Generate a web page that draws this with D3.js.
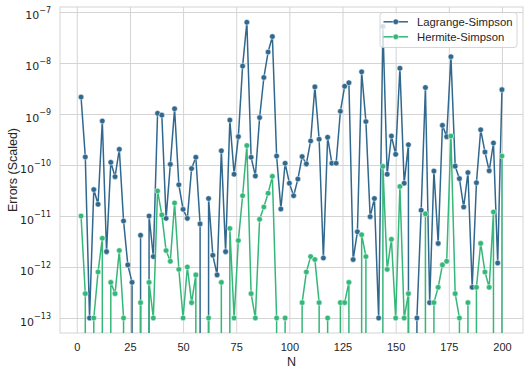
<!DOCTYPE html>
<html><head><meta charset="utf-8">
<script src="https://cdn.jsdelivr.net/npm/d3@7/dist/d3.min.js"></script>
<style>body{margin:0;background:#fff}</style>
</head><body><svg id="chart" width="530" height="374"></svg>
<script>
// ---- data ----
const N = [2,4,6,8,10,12,14,16,18,20,22,24,26,28,30,32,34,36,38,40,
  42,44,46,48,50,52,54,56,58,60,62,64,66,68,70,72,74,76,78,80,
  82,84,86,88,90,92,94,96,98,100,102,104,106,108,110,112,114,116,118,120,
  122,124,126,128,130,132,134,136,138,140,142,144,146,148,150,152,154,156,158,160,
  162,164,166,168,170,172,174,176,178,180,182,184,186,188,190,192,194,196,198,200];
const lagrange = [2.15e-9,1.44e-10,1e-13,3.3e-11,1.7e-11,7.3e-10,2e-12,1.13e-10,5.9e-11,2.03e-10,
  8e-12,1.1e-12,5e-13,0,4.2e-12,0,1e-11,1.6e-12,1.03e-9,9.5e-10,
  9e-12,1.03e-10,1.27e-9,4.1e-11,1.35e-11,9e-12,8.5e-11,1.42e-10,7e-12,0,
  2.2e-11,1.7e-12,7e-13,1.9e-10,2e-12,7.6e-10,6.6e-11,3.6e-10,8.7e-9,6.3e-8,
  1.42e-10,6.1e-11,8.5e-10,5.2e-9,1.64e-8,3.3e-8,1.5e-10,1.37e-11,1.08e-10,4.4e-11,
  2.5e-11,5.3e-11,1.46e-10,1.05e-10,2.96e-10,3.4e-9,3.2e-10,1.5e-12,3.5e-10,1.08e-10,
  1.08e-10,1.13e-9,3.5e-9,4.1e-9,1.4e-12,4.9e-12,6.7e-9,7.1e-10,9.7e-12,2.2e-11,
  1e-13,5.2e-8,6.6e-11,3.7e-10,1.62e-10,7.9e-9,4.4e-11,2.5e-10,0,1e-13,
  1.3e-11,3.3e-9,2e-13,7.6e-11,2.9e-12,6e-10,3.6e-10,1.33e-8,9.5e-11,5.4e-11,
  1.5e-11,7.1e-11,4e-13,4.5e-11,4.9e-10,1.8e-10,7.7e-11,2.7e-10,1.2e-12,3e-9];
const hermite = [1e-11,3e-13,0,1e-13,8e-13,3.66e-12,0,5e-13,3e-13,2.1e-12,
  1e-13,0,0,0,2e-13,0,5e-13,1e-13,3.1e-11,1.05e-11,
  2.1e-12,1.3e-12,1.8e-11,9e-13,1e-13,1e-12,2e-13,7e-13,0,0,
  1e-13,0,0,5e-13,0,5.7e-12,1e-13,3.3e-12,2.5e-11,2.4e-10,
  3e-13,1e-13,8.6e-12,1.5e-11,2.8e-11,6e-11,1e-13,0,1e-13,0,
  0,0,2e-13,8e-13,1.6e-12,1.4e-12,2e-13,0,1e-13,0,
  0,2e-13,2e-13,5e-13,0,0,4.3e-12,1.6e-12,0,0,
  0,9.4e-11,9e-13,3.5e-12,1e-13,3.8e-11,1e-13,3e-13,0,0,
  0,1.1e-11,0,2e-13,4e-13,1.1e-12,1.3e-12,3.7e-10,3e-13,1e-13,
  0,2e-13,0,4e-13,2.9e-12,8e-13,4e-13,1.2e-11,0,1.5e-10];
const seriesNames = ["Lagrange-Simpson", "Hermite-Simpson"];
const seriesColors = ["#31688e", "#35b779"];
const xTicks = [0,25,50,75,100,125,150,175,200];
const yTickExps = [-13,-12,-11,-10,-9,-8,-7];
const xLabel = "N";
const yLabel = "Errors (Scaled)";

// ---- layout ----
const L = 60, R = 523, T = 7, B = 333;
const svg = d3.select("#chart");
const font = "'Liberation Sans', Arial, sans-serif";
const textColor = "#262626";
const gridColor = "#d4d4d4";

const x = d3.scaleLinear().domain([-7.9, 209.9]).range([L, R]);
const y = d3.scaleLog().domain([Math.pow(10, -13.294), Math.pow(10, -6.902)]).range([B, T]);
const yPos = v => v > 0 ? y(v) : B + 20000;

svg.append("rect").attr("x",0).attr("y",0).attr("width",530).attr("height",374).attr("fill","#fff");

// grid + axes
const xAxis = d3.axisBottom(x).tickValues(xTicks).tickSize(-(B - T)).tickPadding(10).tickFormat(d3.format("d"));
const gx = svg.append("g").attr("transform", `translate(0,${B})`).call(xAxis);
gx.select(".domain").remove();
gx.selectAll(".tick line").attr("stroke", gridColor).attr("stroke-width", 1);
gx.selectAll(".tick text").attr("fill", textColor).style("font-family", font).style("font-size", "11px");

const yAxis = d3.axisLeft(y).tickValues(yTickExps.map(e => Math.pow(10, e))).tickSize(-(R - L)).tickPadding(9).tickFormat(() => "");
const gy = svg.append("g").attr("transform", `translate(${L},0)`).call(yAxis);
gy.select(".domain").remove();
gy.selectAll(".tick line").attr("stroke", gridColor).attr("stroke-width", 1);
gy.selectAll(".tick text").each(function(d, i) {
  const t = d3.select(this).attr("dy", "7").attr("fill", textColor)
    .style("font-family", "'DejaVu Sans', sans-serif").style("font-size", "11px");
  t.append("tspan").text("10");
  t.append("tspan").attr("dy", "-6.5").style("font-size", "8px").text("\u2212" + Math.abs(yTickExps[i]));
});

// frame
svg.append("rect").attr("x", L).attr("y", T).attr("width", R - L).attr("height", B - T)
  .attr("fill", "none").attr("stroke", gridColor).attr("stroke-width", 1);

// clip
svg.append("clipPath").attr("id", "clip").append("rect")
  .attr("x", L).attr("y", T).attr("width", R - L).attr("height", B - T);
const plot = svg.append("g").attr("clip-path", "url(#clip)");

const allSeries = [lagrange, hermite];
allSeries.forEach((vals, si) => {
  const pts = N.map((n, i) => ({n, v: vals[i]}));
  const line = d3.line().x(d => x(d.n)).y(d => yPos(d.v));
  plot.append("path").datum(pts).attr("d", line)
    .attr("fill", "none").attr("stroke", seriesColors[si]).attr("stroke-width", 1.5)
    .attr("stroke-linejoin", "round");
  plot.append("g").selectAll("circle").data(pts.filter(d => d.v > 0)).join("circle")
    .attr("cx", d => x(d.n)).attr("cy", d => y(d.v)).attr("r", 2.8)
    .attr("fill", seriesColors[si]).attr("stroke", "#fff").attr("stroke-width", 0.5);
});

// labels
svg.append("text").attr("x", (L + R) / 2).attr("y", 366).attr("text-anchor", "middle")
  .attr("fill", textColor).style("font-family", font).style("font-size", "12.5px").text(xLabel);
svg.append("text").attr("transform", `translate(17,${(T + B) / 2}) rotate(-90)`).attr("text-anchor", "middle")
  .attr("fill", textColor).style("font-family", font).style("font-size", "12.5px").text(yLabel);

// legend
const lg = svg.append("g");
lg.append("rect").attr("x", 380).attr("y", 12.5).attr("width", 137).attr("height", 35).attr("rx", 3)
  .attr("fill", "#fff").attr("fill-opacity", 0.8).attr("stroke", "#cccccc").attr("stroke-width", 0.8);
seriesNames.forEach((name, i) => {
  const cy = 21.8 + i * 15;
  lg.append("line").attr("x1", 383.5).attr("x2", 408).attr("y1", cy).attr("y2", cy)
    .attr("stroke", seriesColors[i]).attr("stroke-width", 1.5);
  lg.append("circle").attr("cx", 395.8).attr("cy", cy).attr("r", 2.8)
    .attr("fill", seriesColors[i]).attr("stroke", "#fff").attr("stroke-width", 0.5);
  lg.append("text").attr("x", 417).attr("y", cy).attr("dy", "0.35em").attr("fill", textColor)
    .style("font-family", font).style("font-size", "11.3px").text(name);
});
</script></body></html>
